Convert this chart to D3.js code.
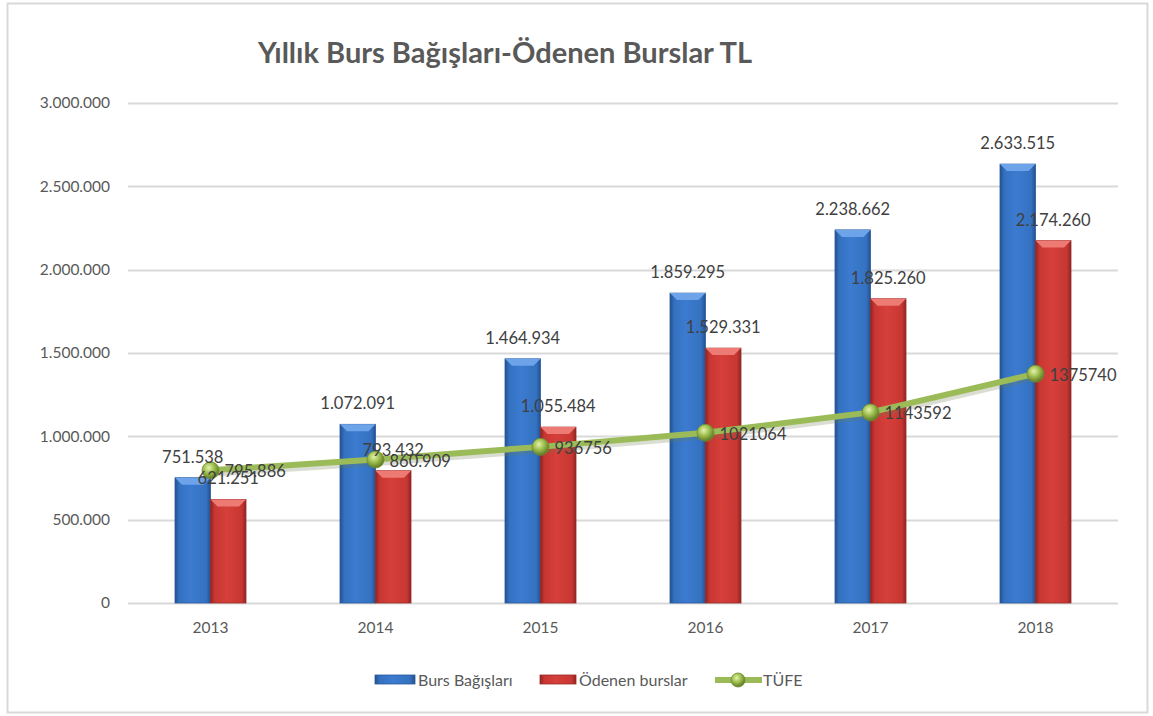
<!DOCTYPE html>
<html>
<head>
<meta charset="UTF-8">
<title>Yıllık Burs Bağışları-Ödenen Burslar TL</title>
<script src="https://cdn.jsdelivr.net/npm/d3@7/dist/d3.min.js"></script>
<style>
  body { margin: 0; background: #fff; }
  text { font-family: Lato, "Open Sans", sans-serif; }
</style>
</head>
<body>
<svg id="chart" width="1153" height="716"></svg>
<script>
// chart data
var years = ["2013", "2014", "2015", "2016", "2017", "2018"];
var bursBagislari = [751538, 1072091, 1464934, 1859295, 2238662, 2633515];
var odenenBurslar = [621251, 793432, 1055484, 1529331, 1825260, 2174260];
var tufe = [795886, 860909, 936756, 1021064, 1143592, 1375740];
// TÜFE labels are printed as in the source (some without separators)
var tufeLabels = ["795.886", "860.909", "936756", "1021064", "1143592", "1375740"];
var yTicks = [0, 500000, 1000000, 1500000, 2000000, 2500000, 3000000];

var svg = d3.select("#chart");

// number format with dot thousands separator
var fmt = d3.formatLocale({ decimal: ",", thousands: ".", grouping: [3], currency: ["", ""] }).format(",d");

// outer frame
svg.append("rect")
    .attr("x", 7.5).attr("y", 3.5)
    .attr("width", 1140).attr("height", 709)
    .attr("fill", "#fff")
    .attr("stroke", "#d9d9d9")
    .attr("stroke-width", 2);

// scales
var x = d3.scaleBand().domain(years).range([128, 1118]);
var y = d3.scaleLinear().domain([0, 3000000]).range([603, 103]);
var barW = 35.5;

// gradients for the bevelled bars
var defs = svg.append("defs");
function sideGradient(id, dark, mid, light) {
    var g = defs.append("linearGradient").attr("id", id)
        .attr("x1", "0").attr("x2", "1").attr("y1", "0").attr("y2", "0");
    g.append("stop").attr("offset", "0%").attr("stop-color", dark);
    g.append("stop").attr("offset", "12%").attr("stop-color", mid);
    g.append("stop").attr("offset", "45%").attr("stop-color", light);
    g.append("stop").attr("offset", "88%").attr("stop-color", mid);
    g.append("stop").attr("offset", "100%").attr("stop-color", dark);
}
sideGradient("blueGrad", "#24508f", "#3471c0", "#3c7bd0");
sideGradient("redGrad", "#8f2421", "#c83733", "#d63f3a");

var ball = defs.append("radialGradient").attr("id", "ballGrad")
    .attr("cx", "40%").attr("cy", "35%").attr("r", "65%");
ball.append("stop").attr("offset", "0%").attr("stop-color", "#e4f2b0");
ball.append("stop").attr("offset", "45%").attr("stop-color", "#a5c455");
ball.append("stop").attr("offset", "100%").attr("stop-color", "#5d7a22");

// gridlines and y labels
var grid = svg.append("g");
grid.selectAll("line").data(yTicks).enter().append("line")
    .attr("x1", 128).attr("x2", 1118)
    .attr("y1", function(d) { return Math.round(y(d)) + 0.5; })
    .attr("y2", function(d) { return Math.round(y(d)) + 0.5; })
    .attr("stroke", "#d9d9d9")
    .attr("stroke-width", 2);

var yAxis = d3.axisLeft(y).tickValues(yTicks).tickSize(0).tickPadding(0)
    .tickFormat(function(d) { return d === 0 ? "0" : fmt(d); });
var yg = svg.append("g").attr("transform", "translate(110,0)").call(yAxis);
yg.select(".domain").remove();
yg.selectAll("text")
    .attr("fill", "#595959")
    .style("font-size", "15.5px")
    .style("font-family", "Lato, sans-serif");

// x labels
var xAxis = d3.axisBottom(x).tickSize(0).tickPadding(0);
var xg = svg.append("g").attr("transform", "translate(0,622)").call(xAxis);
xg.select(".domain").remove();
xg.selectAll("text")
    .attr("fill", "#595959")
    .style("font-size", "15.5px")
    .style("font-family", "Lato, sans-serif");

// draw one bevelled bar
function drawBar(g, x0, v, fill, bevel, edge) {
    var top = y(v), bottom = y(0);
    g.append("rect")
        .attr("x", x0).attr("y", top)
        .attr("width", barW).attr("height", bottom - top)
        .attr("fill", "url(#" + fill + ")")
        .attr("stroke", edge).attr("stroke-width", 0.8);
    var b = 7;
    g.append("path")
        .attr("d", "M" + x0 + "," + top + "L" + (x0 + barW) + "," + top +
                   "L" + (x0 + barW - b) + "," + (top + b) + "L" + (x0 + b) + "," + (top + b) + "Z")
        .attr("fill", bevel);
}

var bars = svg.append("g");
years.forEach(function(yr, i) {
    var cx = x(yr) + x.bandwidth() / 2;
    drawBar(bars, cx - barW, bursBagislari[i], "blueGrad", "#6da3e8", "#2a5a9c");
    drawBar(bars, cx, odenenBurslar[i], "redGrad", "#ee7a74", "#9a2b27");
});

// TÜFE line
var line = d3.line()
    .x(function(d, i) { return x(years[i]) + x.bandwidth() / 2; })
    .y(function(d) { return y(d); });

svg.append("path").datum(tufe)
    .attr("d", line)
    .attr("fill", "none")
    .attr("stroke", "#6b7a4a")
    .attr("stroke-opacity", 0.25)
    .attr("stroke-width", 7)
    .attr("transform", "translate(1,3)");

svg.append("path").datum(tufe)
    .attr("d", line)
    .attr("fill", "none")
    .attr("stroke", "#9bbb59")
    .attr("stroke-width", 6);

svg.selectAll(".pt").data(tufe).enter().append("circle")
    .attr("class", "pt")
    .attr("cx", function(d, i) { return x(years[i]) + x.bandwidth() / 2; })
    .attr("cy", function(d) { return y(d); })
    .attr("r", 8.5)
    .attr("fill", "url(#ballGrad)")
    .attr("stroke", "#6f8d2e")
    .attr("stroke-width", 0.8);

// data labels
var labels = svg.append("g")
    .attr("fill", "#404040")
    .style("font-size", "16.5px");

labels.selectAll(".lb").data(bursBagislari).enter().append("text")
    .attr("x", function(d, i) { return x(years[i]) + x.bandwidth() / 2 - barW / 2; })
    .attr("y", function(d) { return y(d) - 15; })
    .attr("text-anchor", "middle")
    .text(function(d) { return fmt(d); });

labels.selectAll(".lr").data(odenenBurslar).enter().append("text")
    .attr("x", function(d, i) { return x(years[i]) + x.bandwidth() / 2 + barW / 2; })
    .attr("y", function(d) { return y(d) - 15; })
    .attr("text-anchor", "middle")
    .text(function(d) { return fmt(d); });

labels.selectAll(".lt").data(tufe).enter().append("text")
    .attr("x", function(d, i) { return x(years[i]) + x.bandwidth() / 2 + 14; })
    .attr("y", function(d) { return y(d) + 7; })
    .text(function(d, i) { return tufeLabels[i]; });

// title
svg.append("text")
    .attr("x", 505).attr("y", 63)
    .attr("text-anchor", "middle")
    .attr("fill", "#595959")
    .attr("textLength", 494)
    .attr("lengthAdjust", "spacingAndGlyphs")
    .style("font-size", "29px")
    .style("font-weight", "bold")
    .text("Yıllık Burs Bağışları-Ödenen Burslar TL");

// legend
var legend = svg.append("g").style("font-size", "16px").attr("fill", "#595959");
legend.append("rect").attr("x", 375).attr("y", 675).attr("width", 40).attr("height", 9)
    .attr("fill", "url(#blueGrad)").attr("stroke", "#2a5a9c").attr("stroke-width", 0.8);
legend.append("text").attr("x", 418).attr("y", 686).text("Burs Bağışları");
legend.append("rect").attr("x", 540).attr("y", 675).attr("width", 36).attr("height", 9)
    .attr("fill", "url(#redGrad)").attr("stroke", "#9a2b27").attr("stroke-width", 0.8);
legend.append("text").attr("x", 579).attr("y", 686).text("Ödenen burslar");
legend.append("line").attr("x1", 715).attr("x2", 762).attr("y1", 680).attr("y2", 680)
    .attr("stroke", "#9bbb59").attr("stroke-width", 6);
legend.append("circle").attr("cx", 738).attr("cy", 680).attr("r", 7)
    .attr("fill", "url(#ballGrad)").attr("stroke", "#6f8d2e").attr("stroke-width", 0.8);
legend.append("text").attr("x", 763).attr("y", 686).text("TÜFE");
</script>
</body>
</html>
